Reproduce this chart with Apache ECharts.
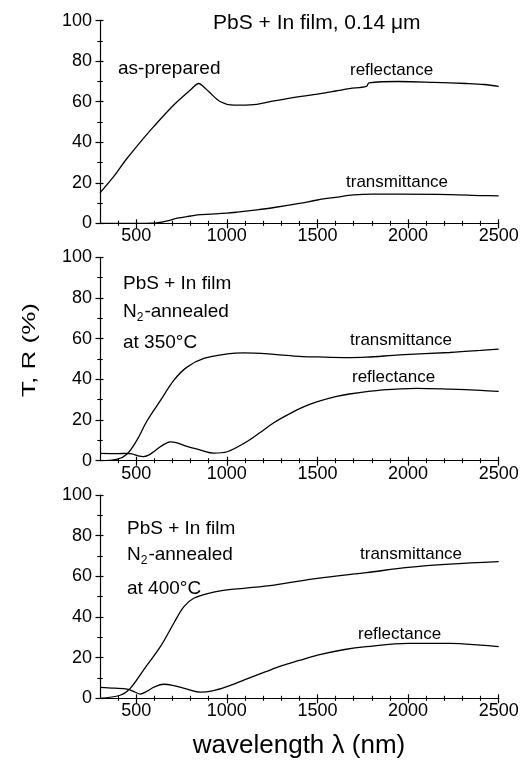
<!DOCTYPE html>
<html>
<head>
<meta charset="utf-8">
<script src="https://cdn.jsdelivr.net/npm/echarts@6/dist/echarts.min.js"></script>
<style>
html,body{margin:0;padding:0;background:#fff;}
#chart{width:526px;height:760px;}
</style>
</head>
<body>
<div id="chart"></div>
<script>
// ---- data (wavelength nm, value %) ----
const asPreparedReflectance = [[300,15],[375,23],[440,31],[503,38],[596,47.7],[707,58.4],[799,65.8],[845,69],[870,67.5],[900,65],[965,60],[1040,58.3],[1150,58.6],[1261,60.4],[1400,62.5],[1500,63.8],[1600,65.3],[1676,66.5],[1770,67.6],[1785,69.3],[1950,70],[2140,69.6],[2320,69],[2420,68.5],[2500,67.6]];
const asPreparedTransmittance = [[300,0],[450,0],[550,0],[614,0.2],[680,1.3],[725,2.5],[800,3.6],[855,4.3],[1000,5],[1057,5.5],[1178,6.8],[1261,7.8],[1400,9.8],[1500,11.5],[1600,12.8],[1700,14],[1800,14.4],[1950,14.4],[2230,14.2],[2400,13.7],[2500,13.5]];
const ann350Transmittance = [[300,0],[392,0.6],[448,3.2],[503,10],[559,19.5],[633,29.5],[707,39.5],[780,46],[873,50.3],[1002,52.5],[1094,53],[1261,52.3],[1400,51.3],[1500,51],[1650,50.7],[1769,50.9],[1953,52],[2230,53.2],[2400,54.2],[2500,54.9]];
const ann350Reflectance = [[300,3.6],[400,3.5],[448,3.6],[476,3.4],[510,2.4],[540,2.0],[565,2.6],[596,4.4],[640,7.3],[688,9.3],[730,8.7],[780,7],[855,5.2],[928,3.7],[1002,4.4],[1094,8.5],[1178,13.5],[1261,18.8],[1340,22.8],[1420,26.3],[1500,29.0],[1600,31.5],[1676,32.8],[1861,34.8],[2046,35.6],[2230,35.2],[2400,34.6],[2500,34.1]];
const ann400Transmittance = [[300,0],[411,1.5],[467,4.9],[540,13.9],[633,25.4],[707,36.9],[762,45],[817,49.2],[910,51.9],[1000,53.3],[1094,54.1],[1261,55.7],[1500,59],[1769,61.8],[2000,64.4],[2230,66],[2500,67.2]];
const ann400Reflectance = [[300,5.4],[380,5.0],[450,4.5],[490,3.2],[522,2.1],[560,3.5],[600,5.6],[651,6.9],[700,6.4],[780,4.5],[855,3.0],[920,3.6],[1000,5.7],[1100,9.2],[1215,13.1],[1300,15.9],[1400,18.6],[1500,21.2],[1650,24],[1769,25.4],[2000,27],[2230,27],[2400,26.2],[2500,25.4]];

const xMajorTicks = [500,1000,1500,2000,2500];
const xMinorTicks = [400,600,700,800,900,1100,1200,1300,1400,1600,1700,1800,1900,2100,2200,2300,2400];
const yTicks = [0,20,40,60,80,100];

const FONT = '"Liberation Sans", Arial, Helvetica, sans-serif';
const BLACK = '#000';

const grids = [
  {left:100, top:20.7, width:398.7, height:202.6},
  {left:100, top:257.3, width:398.7, height:203.4},
  {left:100, top:495, width:398.7, height:203.3}
];

const plain = v => String(v);

const xAxes = [], yAxes = [];
grids.forEach((g, i) => {
  const base = {gridIndex:i, type:'value', min:300, max:2500, position:'bottom',
    splitLine:{show:false}, axisPointer:{show:false}};
  xAxes.push(Object.assign({}, base, {
    axisLine:{show:true, onZero:false, lineStyle:{color:BLACK, width:1.2}},
    axisTick:{show:true, customValues:xMajorTicks, length:5, lineStyle:{color:BLACK, width:1.2}},
    axisLabel:{show:true, customValues:xMajorTicks, formatter:plain, fontSize:18, color:BLACK, fontFamily:FONT, margin:4}
  }));
  xAxes.push(Object.assign({}, base, {
    axisLine:{show:false, onZero:false},
    axisTick:{show:true, inside:true, customValues:xMajorTicks, length:4, lineStyle:{color:BLACK, width:1.2}},
    axisLabel:{show:false}
  }));
  xAxes.push(Object.assign({}, base, {
    axisLine:{show:false, onZero:false},
    axisTick:{show:true, customValues:xMinorTicks, length:2.5, lineStyle:{color:BLACK, width:1.1}},
    axisLabel:{show:false}
  }));
  xAxes.push(Object.assign({}, base, {
    axisLine:{show:false, onZero:false},
    axisTick:{show:true, inside:true, customValues:xMinorTicks, length:2.5, lineStyle:{color:BLACK, width:1.1}},
    axisLabel:{show:false}
  }));
  const ybase = {gridIndex:i, type:'value', min:0, max:100, interval:20, position:'left',
    splitLine:{show:false}, minorSplitLine:{show:false}};
  yAxes.push(Object.assign({}, ybase, {
    axisLine:{show:true, onZero:false, lineStyle:{color:BLACK, width:1.2}},
    axisTick:{show:true, length:4.5, lineStyle:{color:BLACK, width:1.2}},
    minorTick:{show:true, splitNumber:2, length:2.7, lineStyle:{color:BLACK, width:1.1}},
    axisLabel:{show:true, customValues:yTicks, formatter:plain, fontSize:18, color:BLACK, fontFamily:FONT, margin:8}
  }));
  yAxes.push(Object.assign({}, ybase, {
    axisLine:{show:false, onZero:false},
    axisTick:{show:true, inside:true, length:3.5, lineStyle:{color:BLACK, width:1.2}},
    minorTick:{show:true, splitNumber:2, length:2.7, lineStyle:{color:BLACK, width:1.1}},
    axisLabel:{show:false}
  }));
});

function curve(data, gi) {
  return {type:'line', data:data, xAxisIndex:gi*4, yAxisIndex:gi*2, showSymbol:false,
    smooth:0.35, silent:true, lineStyle:{color:BLACK, width:1.3}, itemStyle:{color:BLACK}};
}

function txt(x, y, s, size, extra) {
  return Object.assign({type:'text', x:x, y:y, silent:true,
    style:{text:s, font:size + 'px ' + FONT, fill:BLACK, textAlign:'left', textVerticalAlign:'middle'}}, extra || {});
}
function subText(x, y, size) {
  return {type:'text', x:x, y:y, silent:true,
    style:{text:'{a|N}{b|2}{a|-annealed}', fill:BLACK, textAlign:'left', textVerticalAlign:'middle',
      rich:{a:{fontSize:size, fontFamily:FONT, color:BLACK, lineHeight:24},
            b:{fontSize:12, fontFamily:FONT, color:BLACK, verticalAlign:'bottom', lineHeight:24, padding:[0,1,0,0]}}}};
}

const chart = echarts.init(document.getElementById('chart'), null, {renderer:'canvas'});
chart.setOption({
  backgroundColor:'#fff',
  animation:false,
  grid: grids.map(g => Object.assign({outerBoundsMode:'none', containLabel:false}, g)),
  xAxis: xAxes,
  yAxis: yAxes,
  series: [
    curve(asPreparedReflectance, 0), curve(asPreparedTransmittance, 0),
    curve(ann350Transmittance, 1), curve(ann350Reflectance, 1),
    curve(ann400Transmittance, 2), curve(ann400Reflectance, 2)
  ],
  graphic: [
    txt(213, 23.5, 'PbS + In film, 0.14 \u03bcm', 21),
    txt(118, 69, 'as-prepared', 19),
    txt(350, 70, 'reflectance', 17),
    txt(346, 182, 'transmittance', 17),
    txt(123, 284.2, 'PbS + In film', 19),
    subText(123, 311.7, 19),
    txt(123, 342.5, 'at 350\u00b0C', 19),
    txt(350, 340.5, 'transmittance', 17),
    txt(352, 377, 'reflectance', 17),
    txt(127, 528.3, 'PbS + In film', 19),
    subText(127, 555, 19),
    txt(127, 588.3, 'at 400\u00b0C', 19),
    txt(360, 554, 'transmittance', 17),
    txt(358, 634.5, 'reflectance', 17),
    {type:'text', x:30, y:350, rotation:Math.PI/2, scaleY:0.72, silent:true,
      style:{text:'T, R (%)', font:'26px ' + FONT, fill:BLACK, textAlign:'center', textVerticalAlign:'middle'}},
    {type:'text', x:299, y:746, silent:true,
      style:{text:'wavelength \u03bb (nm)', font:'26px ' + FONT, fill:BLACK, textAlign:'center', textVerticalAlign:'middle'}}
  ]
});
</script>
</body>
</html>
